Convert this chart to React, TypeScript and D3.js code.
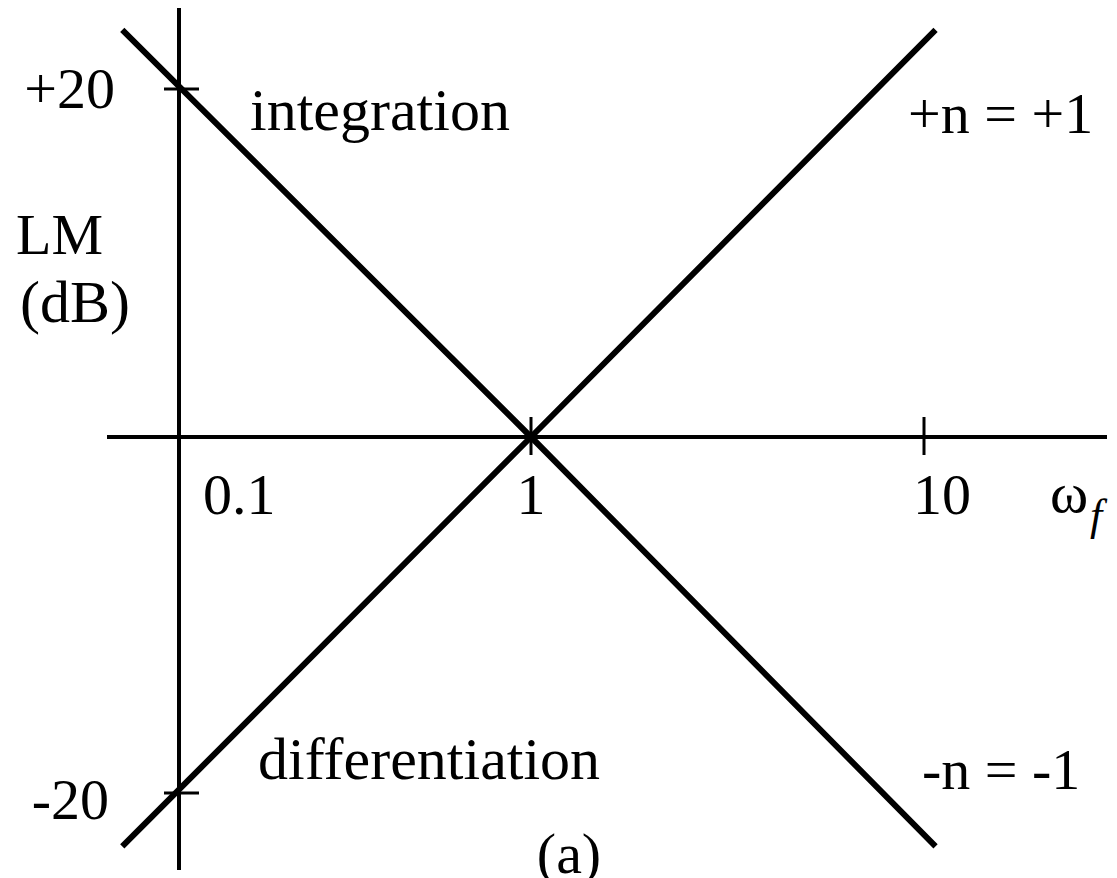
import React from "react";
import * as d3 from "d3";

// Frequency ticks (normalised frequency, log axis) and their labels
const freqTicks: number[] = [0.1, 1, 10];
const freqTickLabels: string[] = ["0.1", "1", "10"];

// Log-magnitude ticks (dB) and their labels
const magTicks: number[] = [20, -20];
const magTickLabels: string[] = ["+20", "-20"];

// Asymptote of an integrator, n = -1 (−20 dB/decade): [ω, LM]
const integratorLine: [number, number][] = [
  [0.069, 23.4],
  [1, 0],
  [10.7, -23.0],
];

// Asymptote of a differentiator, n = +1 (+20 dB/decade): [ω, LM]
const differentiatorLine: [number, number][] = [
  [0.069, -23.0],
  [1, 0],
  [10.7, 23.4],
];

const W = 1117;
const H = 878;
const FONT = "'Liberation Serif', 'Times New Roman', serif";

export default function App() {
  // Piecewise log / linear scales
  const x = d3.scaleLog().domain([0.1, 1, 10]).range([179, 531, 924]);
  const y = d3.scaleLinear().domain([-20, 0, 20]).range([793, 437, 89]);

  const line = d3
    .line<[number, number]>()
    .x((d) => x(d[0]))
    .y((d) => y(d[1]));

  const x0 = x(0.1);
  const y0 = y(0);

  return (
    <svg
      width={W}
      height={H}
      viewBox={`0 0 ${W} ${H}`}
      style={{ position: "absolute", left: 0, top: 0, background: "#fff" }}
      fontFamily={FONT}
    >
      {/* axes */}
      <line x1={x0} x2={x0} y1={8} y2={870} stroke="#000" strokeWidth={4} />
      <line x1={107} x2={1107} y1={y0} y2={y0} stroke="#000" strokeWidth={4} />

      {/* frequency ticks */}
      {freqTicks.map((t, i) =>
        i === 0 ? null : (
          <line
            key={"ft" + t}
            x1={x(t)}
            x2={x(t)}
            y1={y0 - 20}
            y2={y0 + 18}
            stroke="#000"
            strokeWidth={3}
          />
        )
      )}
      {freqTicks.map((t, i) => (
        <text
          key={"fl" + t}
          x={i === 0 ? x(t) + 24 : x(t) + (i === 2 ? 18 : 0)}
          y={514}
          fontSize={58}
          textAnchor={i === 0 ? "start" : "middle"}
        >
          {freqTickLabels[i]}
        </text>
      ))}

      {/* magnitude ticks */}
      {magTicks.map((t, i) => (
        <g key={"mt" + t}>
          <line
            x1={x0 - 15}
            x2={x0 + 20}
            y1={y(t)}
            y2={y(t)}
            stroke="#000"
            strokeWidth={3}
          />
          <text
            x={t > 0 ? 115 : 109}
            y={y(t) + (t > 0 ? 19 : 26)}
            fontSize={58}
            textAnchor="end"
          >
            {magTickLabels[i]}
          </text>
        </g>
      ))}

      {/* asymptotes */}
      <path
        d={line(integratorLine) ?? ""}
        fill="none"
        stroke="#000"
        strokeWidth={6}
        strokeLinejoin="round"
      />
      <path
        d={line(differentiatorLine) ?? ""}
        fill="none"
        stroke="#000"
        strokeWidth={6}
        strokeLinejoin="round"
      />

      {/* axis titles */}
      <text x={16} y={254} fontSize={58}>
        LM
      </text>
      <text x={20} y={322} fontSize={60}>
        (dB)
      </text>
      <text x={1050} y={512} fontSize={58}>
        ω
      </text>
      <text x={1090} y={530} fontSize={44} fontStyle="italic">
        f
      </text>

      {/* annotations */}
      <text x={250} y={130} fontSize={60}>
        integration
      </text>
      <text x={258} y={779} fontSize={60}>
        differentiation
      </text>
      <text x={908} y={133} fontSize={58}>
        +n = +1
      </text>
      <text x={922} y={789} fontSize={58}>
        -n = -1
      </text>
      <text x={569} y={873} fontSize={58} textAnchor="middle">
        (a)
      </text>
    </svg>
  );
}
